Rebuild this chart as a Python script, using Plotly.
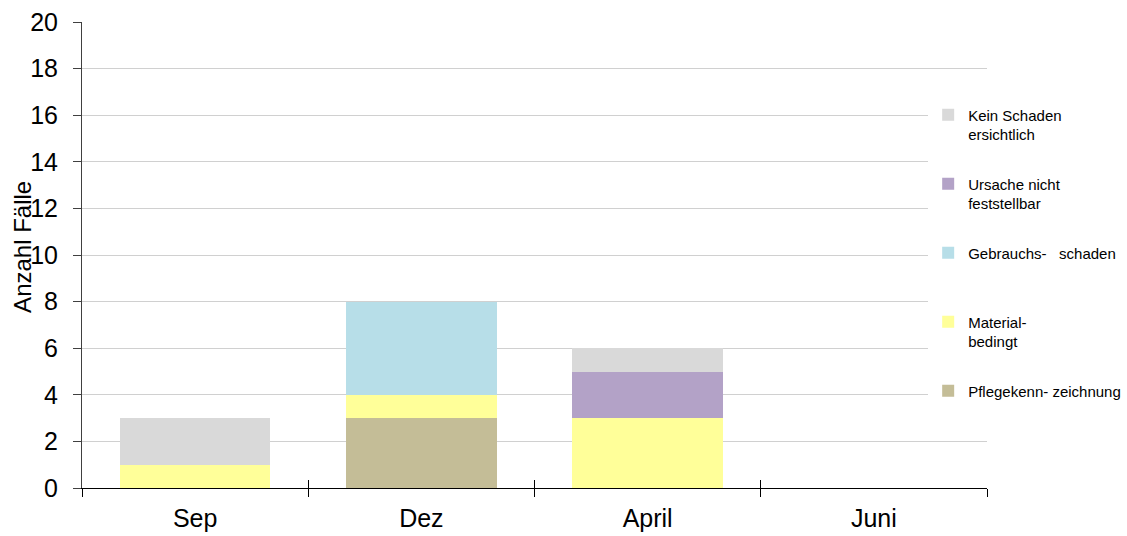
import plotly.graph_objects as go

categories = ["Sep", "Dez", "April", "Juni"]

# series, bottom to top of the stack
pflege = [0, 3, 0, 0]
material = [1, 1, 3, 0]
gebrauch = [0, 4, 0, 0]
ursache = [0, 0, 2, 0]
kein_schaden = [2, 0, 1, 0]

series_names = [
    "Pflegekenn- zeichnung<br>\u00a0",
    "Material-<br>bedingt",
    "Gebrauchs-\u00a0\u00a0 schaden<br>\u00a0",
    "Ursache nicht<br>feststellbar",
    "Kein Schaden<br>ersichtlich",
]
series_values = [pflege, material, gebrauch, ursache, kein_schaden]
series_colors = ["#C4BD97", "#FFFF99", "#B7DEE8", "#B3A2C7", "#D9D9D9"]

y_ticks = list(range(0, 21, 2))

FONT = "Liberation Sans, Arial, sans-serif"

fig = go.Figure()
n = len(series_names)
for i, (name, vals, col) in enumerate(zip(series_names, series_values, series_colors)):
    fig.add_trace(go.Bar(x=categories, y=vals, name=name, marker_color=col,
                         marker_line_width=0, legendgroup=name,
                         legendrank=1000 + (n - i)))

# empty helper trace so the overlay axis (inner half of the crossing ticks) is drawn
fig.add_trace(go.Scatter(x=[], y=[], xaxis="x2", yaxis="y", mode="markers",
                         showlegend=False, hoverinfo="skip"))

ncat = len(categories)
boundaries = [k - 0.5 for k in range(ncat + 1)]

fig.update_layout(
    barmode="stack",
    bargap=0.334,
    width=1127, height=536,
    margin=dict(l=82, r=140, t=22, b=48, pad=0, autoexpand=False),
    plot_bgcolor="white", paper_bgcolor="white",
    font=dict(family=FONT, color="black"),
    showlegend=True,
    legend=dict(
        traceorder="grouped",
        valign="top",
        tracegroupgap=27,
        x=0.935, xanchor="left",
        y=0.836, yanchor="top",
        bgcolor="white",
        font=dict(family=FONT, size=15, color="black"),
        borderwidth=0,
    ),
    xaxis=dict(
        type="category",
        categoryorder="array", categoryarray=categories,
        range=[-0.5, ncat - 0.5],
        tickson="boundaries",
        ticks="outside", ticklen=8, tickcolor="black", tickwidth=1,
        showline=True, linecolor="black", linewidth=1,
        showgrid=False, automargin=False,
        tickfont=dict(size=25, family=FONT, color="black"),
        ticklabelstandoff=8,
    ),
    xaxis2=dict(
        overlaying="x", anchor="y", side="bottom", type="linear",
        range=[-0.5, ncat - 0.5],
        tickmode="array", tickvals=boundaries,
        ticks="inside", ticklen=8, tickcolor="black", tickwidth=1,
        showticklabels=False, showline=False, showgrid=False,
        zeroline=False, automargin=False, fixedrange=True,
    ),
    yaxis=dict(
        range=[0, 20],
        tickvals=y_ticks,
        ticks="outside", ticklen=8, tickcolor="#404040", tickwidth=1,
        showline=True, linecolor="#404040", linewidth=1,
        showgrid=True, gridcolor="#D0D0D0", gridwidth=1,
        zeroline=False, automargin=False,
        tickfont=dict(size=25, family=FONT, color="black"),
        ticklabelstandoff=10,
    ),
    annotations=[dict(
        text="Anzahl Fälle", textangle=-90,
        xref="paper", yref="paper", x=-0.066, y=0.518,
        xanchor="center", yanchor="middle", showarrow=False,
        font=dict(family=FONT, size=24, color="black"),
    )],
)

fig.write_html("out.html", config={"displayModeBar": False},
               post_script="document.body.style.margin='0';")
